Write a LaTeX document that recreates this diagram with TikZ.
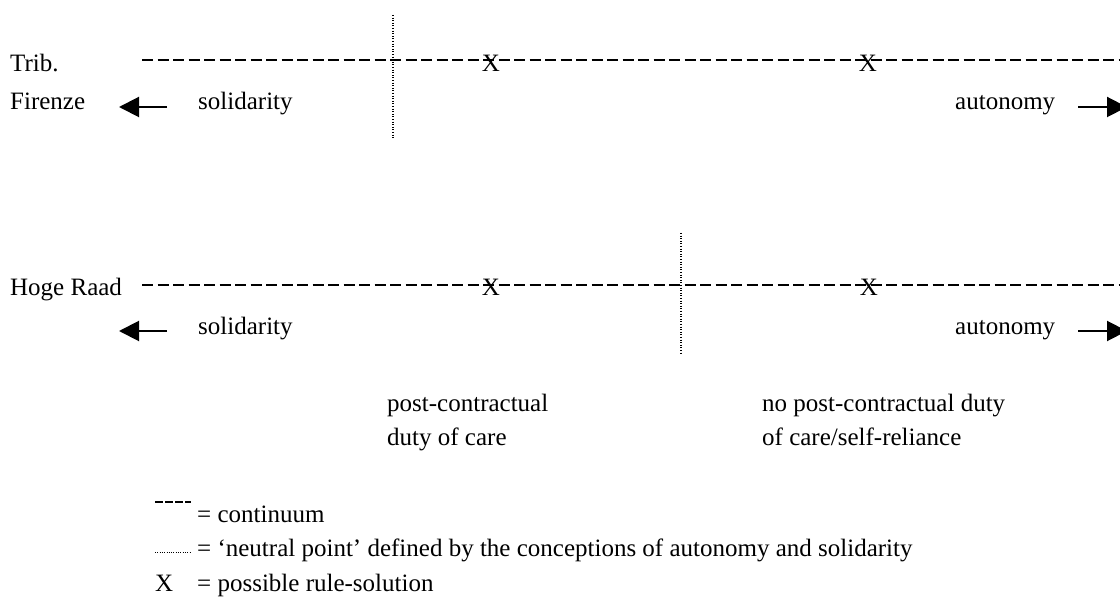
\documentclass[tikz,border=0pt]{standalone}
\usepackage{fontspec}
\setmainfont{Liberation Serif}
\usetikzlibrary{arrows.meta}
\begin{document}
\begin{tikzpicture}[x=1pt,y=-1pt,
  txt/.style={anchor=base west,inner sep=0pt,font=\fontsize{25}{30}\selectfont},
  xmark/.style={anchor=base,inner sep=0pt,font=\fontsize{25}{30}\selectfont},
  continuum/.style={line width=2pt,dash pattern=on 11pt off 4.5pt},
  neutral/.style={line width=1.2pt,dash pattern=on 1.1pt off 1.5pt},
  dirarrow/.style={line width=2pt,-{Triangle[length=20pt,width=20pt]}}]
\useasboundingbox (0,0) rectangle (1120,601);
% ---------- row 1 ----------
\node[txt] (trib) at (10,72) {Trib.};
\node[txt] (fir) at (10,110) {Firenze};
\coordinate (l1a) at (142,60);
\coordinate (l1b) at (1125,60);
\draw[continuum] (l1a) -- (l1b);
\coordinate (n1a) at (393,15);
\coordinate (n1b) at (393,138);
\draw[neutral] (n1a) -- (n1b);
\node[xmark] (x1a) at (491,72) {X};
\node[xmark] (x1b) at (868,72) {X};
\coordinate (al1s) at (167,107);
\coordinate (al1e) at (119,107);
\draw[dirarrow] (al1s) -- (al1e);
\node[txt] (sol1) at (198,110) {solidarity};
\node[txt] (aut1) at (955,110) {autonomy};
\coordinate (ar1s) at (1078,107);
\coordinate (ar1e) at (1127,107);
\draw[dirarrow] (ar1s) -- (ar1e);
% ---------- row 2 ----------
\node[txt] (hr) at (10,296) {Hoge Raad};
\coordinate (l2a) at (142,285);
\coordinate (l2b) at (1125,285);
\draw[continuum] (l2a) -- (l2b);
\coordinate (n2a) at (681,233);
\coordinate (n2b) at (681,353);
\draw[neutral] (n2a) -- (n2b);
\node[xmark] (x2a) at (491,296) {X};
\node[xmark] (x2b) at (869,296) {X};
\coordinate (al2s) at (167,331);
\coordinate (al2e) at (119,331);
\draw[dirarrow] (al2s) -- (al2e);
\node[txt] (sol2) at (198,335) {solidarity};
\node[txt] (aut2) at (955,335) {autonomy};
\coordinate (ar2s) at (1078,331);
\coordinate (ar2e) at (1127,331);
\draw[dirarrow] (ar2s) -- (ar2e);
% ---------- captions ----------
\node[txt] (pc1) at (387,412) {post-contractual};
\node[txt] (pc2) at (387,446) {duty of care};
\node[txt] (npc1) at (762,412) {no post-contractual duty};
\node[txt] (npc2) at (762,446) {of care/self-reliance};
% ---------- legend ----------
\coordinate (lg1a) at (155,502);
\coordinate (lg1b) at (191,502);
\draw[line width=2pt,dash pattern=on 7.5pt off 2.5pt] (lg1a) -- (lg1b);
\node[txt] (lgt1) at (197,523) {= continuum};
\coordinate (lg2a) at (155,553);
\coordinate (lg2b) at (190,553);
\draw[line width=1pt,dash pattern=on 1pt off 1.3pt] (lg2a) -- (lg2b);
\node[txt] (lgt2) at (197,557) {= ‘neutral point’ defined by the conceptions of autonomy and solidarity};
\node[txt] (lgx) at (155,591) {X};
\node[txt] (lgt3) at (197,591) {= possible rule-solution};
\end{tikzpicture}
\end{document}
